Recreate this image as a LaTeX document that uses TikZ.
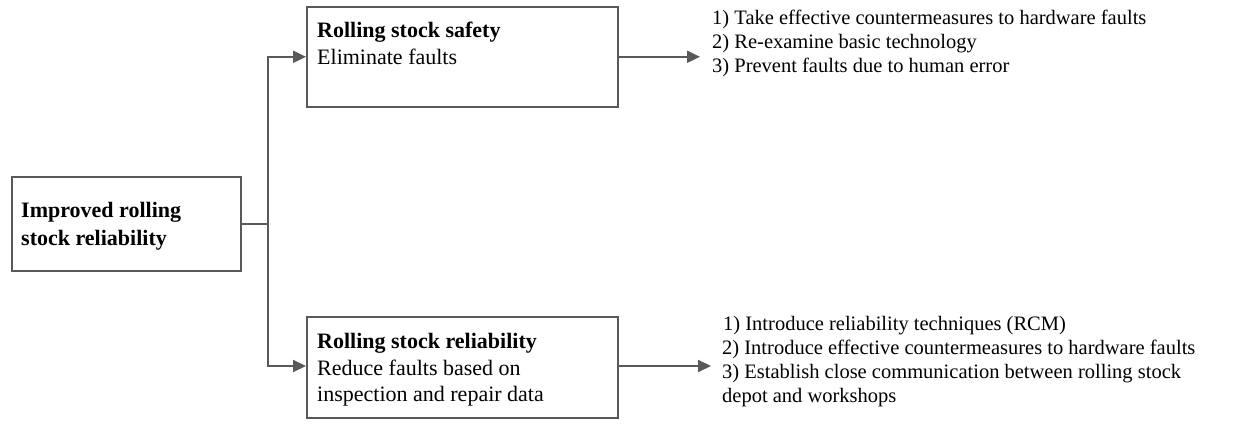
\documentclass[tikz,border=0pt]{standalone}
\usepackage{fontspec}
\setmainfont{Liberation Serif}
\usetikzlibrary{arrows.meta}
\begin{document}
\begin{tikzpicture}[x=1pt,y=-1pt,
  box/.style={draw=linegray,line width=1.6pt,inner sep=0pt,anchor=north west},
  btxt/.style={anchor=base west,inner sep=0pt,font=\fontsize{22}{27}\selectfont},
  bbtxt/.style={btxt,font=\fontsize{22}{27}\selectfont\bfseries},
  ltxt/.style={anchor=base west,inner sep=0pt,font=\fontsize{20.5}{24}\selectfont},
  conn/.style={draw=linegray,line width=2pt},
  arr/.style={conn,-{Triangle[length=13pt,width=12pt]}}]
\definecolor{linegray}{HTML}{595959}
\useasboundingbox (0,0) rectangle (1249,425);
% boxes
\node[box,minimum width=229pt,minimum height=94pt] (L) at (11,176) {};
\node[box,minimum width=311pt,minimum height=100pt] (T) at (306,6) {};
\node[box,minimum width=311pt,minimum height=101pt] (B) at (306,316) {};
% box texts
\node[bbtxt] (L1) at (21,217) {Improved rolling};
\node[bbtxt] (L2) at (21,245) {stock reliability};
\node[bbtxt] (T1) at (317,38) {Rolling stock safety};
\node[btxt] (T2) at (317,65) {Eliminate faults};
\node[bbtxt] (B1) at (317,348) {Rolling stock reliability};
\node[btxt] (B2) at (317,375) {Reduce faults based on};
\node[btxt] (B3) at (317,401) {inspection and repair data};
% lists
\node[ltxt] (Tl1) at (712,25) {1) Take effective countermeasures to hardware faults};
\node[ltxt] (Tl2) at (712,49) {2) Re-examine basic technology};
\node[ltxt] (Tl3) at (712,73) {3) Prevent faults due to human error};
\node[ltxt] (Bl1) at (723,330) {1) Introduce reliability techniques (RCM)};
\node[ltxt] (Bl2) at (722,354) {2) Introduce effective countermeasures to hardware faults};
\node[ltxt] (Bl3) at (722,378) {3) Establish close communication between rolling stock};
\node[ltxt] (Bl4) at (722,402) {depot and workshops};
% connectors
\coordinate (jx) at (268,0);
\coordinate (j) at (L.east -| jx);
\coordinate (tx) at (700,0);
\coordinate (te) at (T.east -| tx);
\coordinate (by) at (711,366);
\coordinate (be) at (by);
\draw[conn] (L.east) -- (j);
\draw[arr] (j) |- (T.west);
\draw[arr] (j) |- (B.west |- by);
\draw[arr] (T.east) -- (te);
\draw[arr] (B.east |- by) -- (be);
\end{tikzpicture}
\end{document}
